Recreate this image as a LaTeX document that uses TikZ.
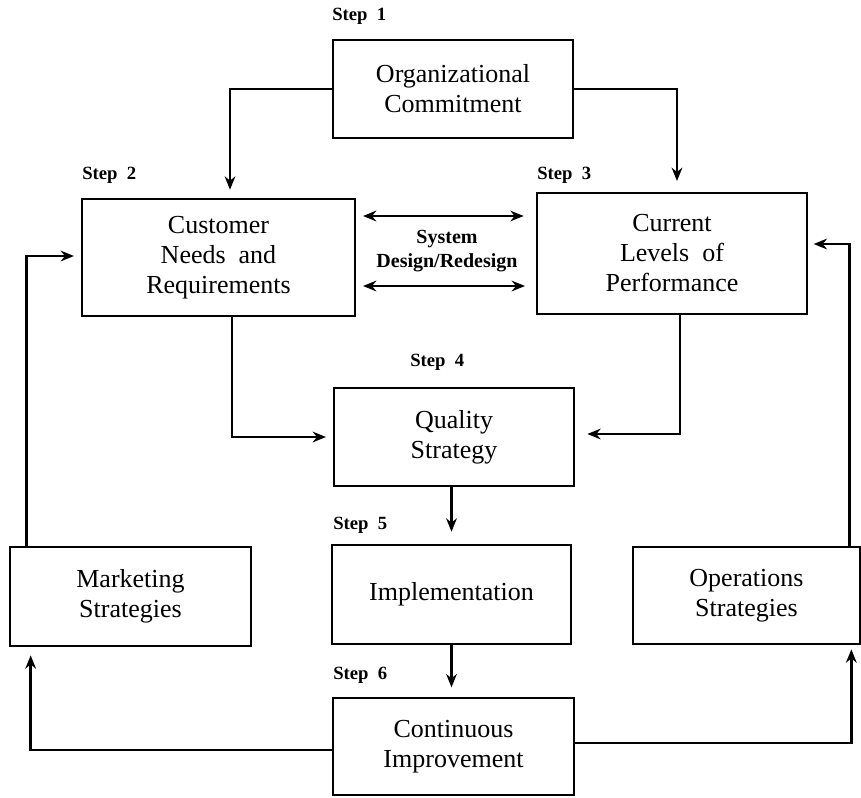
\documentclass[tikz,border=0pt]{standalone}
\usepackage{fontspec}
\setmainfont{Liberation Serif}
\usetikzlibrary{arrows.meta,calc}
\begin{document}
\begin{tikzpicture}[x=0.75pt,y=-0.75pt,
  box/.style={draw,line width=2pt,rectangle,align=center,inner sep=0pt,
    font=\fontsize{19.5}{22.5}\selectfont},
  steplbl/.style={anchor=west,inner sep=0pt,font=\fontsize{14}{16}\selectfont\bfseries},
  arr/.style={line width=2pt,-{Stealth[length=10pt,width=8pt]}},
  darr/.style={line width=2pt,{Stealth[length=10pt,width=8pt]}-{Stealth[length=10pt,width=8pt]}}]
\useasboundingbox (0,0) rectangle (861,797);
% boxes
\node[box,minimum width=180pt,minimum height=73.5pt] (org) at (453,89) {Organizational\\Commitment};
\node[box,minimum width=204.75pt,minimum height=87.75pt] (cust) at (218.5,257.5) {Customer\\Needs\ \ and\\Requirements};
\node[box,minimum width=202.5pt,minimum height=90.75pt] (curr) at (672,253.5) {Current\\Levels\ \ of\\Performance};
\node[box,minimum width=180pt,minimum height=73.5pt] (qual) at (454,437) {Quality\\Strategy};
\node[box,minimum width=179.25pt,minimum height=74.25pt] (impl) at (451.5,594.5) {Implementation};
\node[box,minimum width=180.75pt,minimum height=74.25pt] (mark) at (130.5,596.5) {Marketing\\Strategies};
\node[box,minimum width=170.25pt,minimum height=72.75pt] (oper) at (746.5,595.5) {Operations\\Strategies};
\node[box,minimum width=180.75pt,minimum height=72.75pt] (cont) at (453.5,746.5) {Continuous\\Improvement};
% step labels
\node[steplbl] (s1) at (332,16) {Step\ \ 1};
\node[steplbl] (s2) at (82,175) {Step\ \ 2};
\node[steplbl] (s3) at (537,175) {Step\ \ 3};
\node[steplbl] (s4) at (410,362) {Step\ \ 4};
\node[steplbl] (s5) at (333,525) {Step\ \ 5};
\node[steplbl] (s6) at (333,675) {Step\ \ 6};
\node[align=center,inner sep=0pt,font=\fontsize{15}{17.5}\selectfont\bfseries] (sys) at (447,251) {System\\Design/Redesign};
% connectors
\draw[arr,shorten >=6pt] (org.west) -| ($(cust.north)+(11.5,0)$);
\draw[arr,shorten >=8pt] (org.east) -| ($(curr.north)+(5,0)$);
\draw[darr,shorten <=5pt,shorten >=9pt] (cust.east |- 0,216) -- (curr.west |- 0,216);
\draw[darr,shorten <=5pt,shorten >=8pt] (cust.east |- 0,286) -- (curr.west |- 0,286);
\draw[arr,shorten >=5pt] ($(cust.south)+(13.5,0)$) |- (qual.west);
\draw[arr,shorten >=9pt] ($(curr.south)+(8,0)$) |- ($(qual.east)+(0,-3)$);
\draw[arr,shorten >=9pt] (qual.south -| impl.north) -- (impl.north);
\draw[arr,shorten >=7pt] (impl.south) -- (impl.south |- cont.north);
\draw[arr,shorten >=6pt] ($(cont.west)+(0,3.5)$) -| ($(mark.south west)+(22,0)$);
\draw[arr,shorten >=3pt] ($(cont.east)+(0,-3.5)$) -| ($(oper.south east)+(-10,0)$);
\draw[arr,shorten >=5pt] ($(mark.north west)+(18,0)$) |- ($(cust.west)+(0,-1.5)$);
\draw[arr,shorten >=4pt] ($(oper.north east)+(-12,0)$) |- ($(curr.east)+(0,-9.5)$);
\end{tikzpicture}
\end{document}
